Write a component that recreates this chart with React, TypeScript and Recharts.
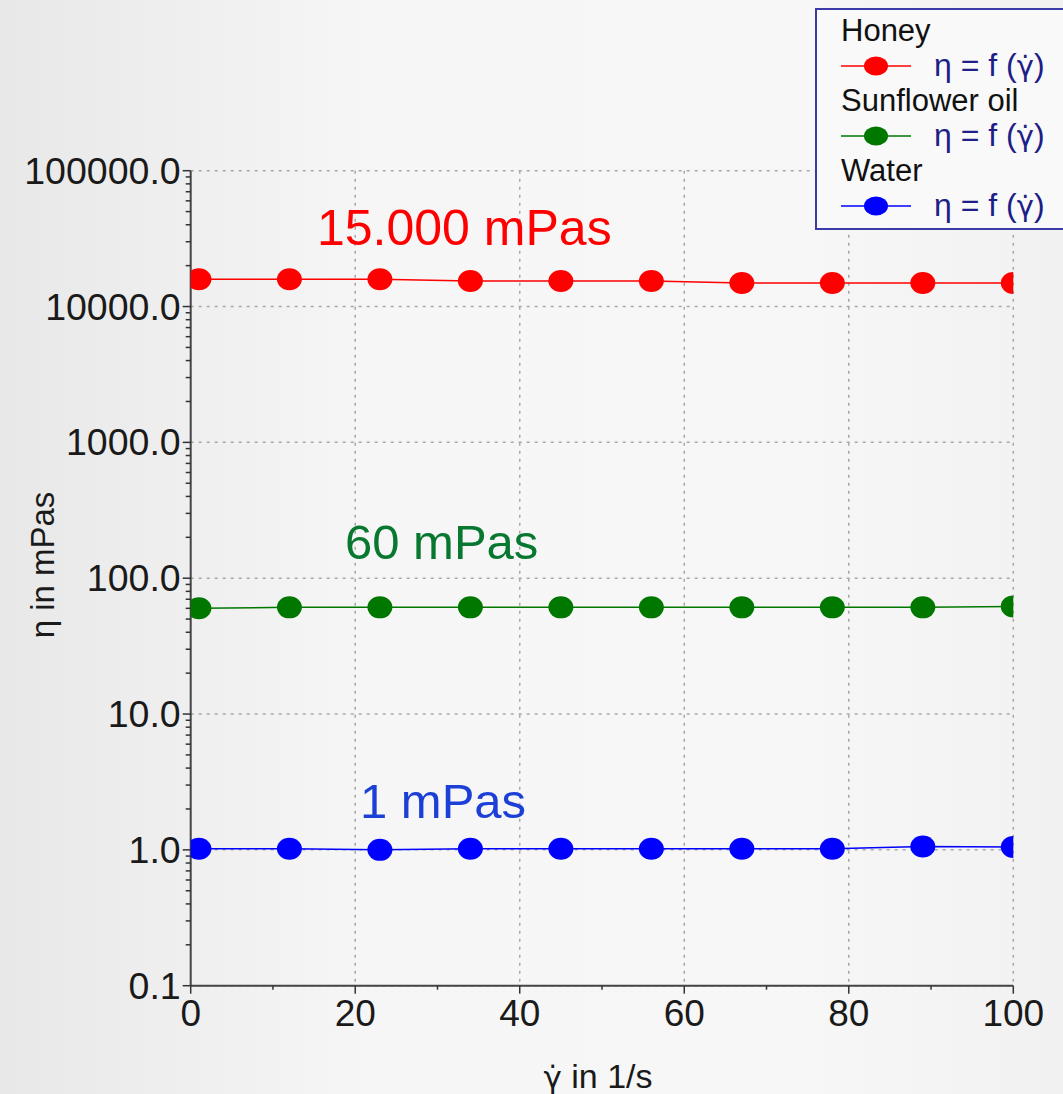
import React from 'react'
import { LineChart, Line, XAxis, YAxis, CartesianGrid, Legend } from 'recharts'

const shearRate = [1, 12, 23, 34, 45, 56, 67, 78, 89, 100]
const honey = [15900, 15900, 15900, 15400, 15400, 15400, 14900, 14900, 14900, 14900]
const sunflowerOil = [60, 61, 61, 61, 61, 61, 61, 61, 61, 62]
const water = [1.02, 1.02, 1.0, 1.02, 1.02, 1.02, 1.02, 1.02, 1.06, 1.05]

const decades = [0.1, 1, 10, 100, 1000, 10000, 100000]
const minorY = decades.slice(0, -1).flatMap((d) => [2, 3, 4, 5, 6, 7, 8, 9].map((m) => m * d))
const xMajor = [0, 20, 40, 60, 80, 100]
const xMinor = [10, 30, 50, 70, 90]

const series = [
  { key: 'honey', name: 'Honey', color: '#ff0000' },
  { key: 'sunflower', name: 'Sunflower oil', color: '#007800' },
  { key: 'water', name: 'Water', color: '#0000ff' },
]

const data = shearRate.map((x, i) => ({
  x,
  honey: honey[i],
  sunflower: sunflowerOil[i],
  water: water[i],
}))

const FONT = '"Liberation Sans", Arial, sans-serif'
const GAMMA_DOT = 'γ\u0307'

const YTick = ({ x, y, payload }: any) => {
  const v = payload.value
  const major = decades.includes(v)
  return (
    <g>
      <line x1={x - (major ? 8 : 5)} x2={x} y1={y} y2={y} stroke="#333" strokeWidth={1.5} />
      {major && (
        <text x={x - 10} y={y} dy={13} textAnchor="end" fontSize={37.5} fill="#1a1a1a" fontFamily={FONT}>
          {v.toFixed(1)}
        </text>
      )}
    </g>
  )
}

const XTick = ({ x, y, payload }: any) => {
  const v = payload.value
  const major = xMajor.includes(v)
  return (
    <g>
      <line x1={x} x2={x} y1={y} y2={y + (major ? 8 : 4)} stroke="#333" strokeWidth={1.5} />
      {major && (
        <text x={x} y={y + 40} textAnchor="middle" fontSize={37} fill="#1a1a1a" fontFamily={FONT}>
          {v}
        </text>
      )}
    </g>
  )
}

const makeDot = (color: string) => (p: any) => (
  <ellipse key={`d-${p.index}`} cx={p.cx} cy={p.cy} rx={12.5} ry={11} fill={color} />
)

const renderLegend = (props: any) => (
  <div
    style={{
      width: 260,
      height: 222,
      boxSizing: 'border-box',
      border: '2px solid #3a3aa8',
      background: '#f9f9f9',
      fontFamily: FONT,
      padding: '4px 0 0 24px',
    }}
  >
    {props.payload.map((item: any) => (
      <div key={item.value}>
        <div style={{ fontSize: 31, lineHeight: '33px', color: '#111' }}>{item.value}</div>
        <div style={{ display: 'flex', alignItems: 'center', height: 37 }}>
          <svg width={70} height={24}>
            <line x1={0} x2={70} y1={12} y2={12} stroke={item.color} strokeWidth={1.5} />
            <ellipse cx={35} cy={12} rx={12} ry={9.5} fill={item.color} />
          </svg>
          <span style={{ fontSize: 32, color: '#1e1e88', marginLeft: 23 }}>
            η = f (<span style={{ fontFamily: '"DejaVu Sans", sans-serif', fontSize: 29 }}>{GAMMA_DOT}</span>)
          </span>
        </div>
      </div>
    ))}
  </div>
)

export default function App() {
  return (
    <div
      style={{
        position: 'absolute',
        left: 0,
        top: 0,
        width: 1063,
        height: 1094,
        background: 'linear-gradient(to right, #e8e8e8 0%, #f6f6f6 35%, #f7f7f7 75%, #f1f1f1 100%)',
        fontFamily: FONT,
        overflow: 'hidden',
      }}
    >
      <LineChart
        width={1063}
        height={1094}
        data={data}
        margin={{ top: 170.7, right: 49.7, left: 10, bottom: 8 }}
      >
        <CartesianGrid
          stroke="#a8a8a8"
          strokeDasharray="3 5"
          strokeWidth={1.5}
          horizontalValues={decades}
          verticalValues={[20, 40, 60, 80, 100]}
        />
        <XAxis
          dataKey="x"
          type="number"
          domain={[0, 100]}
          ticks={[...xMajor, ...xMinor].sort((a, b) => a - b)}
          allowDataOverflow
          height={100.3}
          tickSize={0}
          tickMargin={0}
          tickLine={false}
          tick={<XTick />}
          axisLine={{ stroke: '#444', strokeWidth: 2 }}
          interval={0}
        />
        <YAxis
          scale="log"
          domain={[0.1, 100000]}
          ticks={[...decades, ...minorY].sort((a, b) => a - b)}
          allowDataOverflow
          width={180.7}
          tickSize={0}
          tickMargin={0}
          tickLine={false}
          tick={<YTick />}
          axisLine={{ stroke: '#444', strokeWidth: 2 }}
          interval={0}
        />
        <Legend
          layout="vertical"
          align="center"
          verticalAlign="middle"
          content={renderLegend}
          wrapperStyle={{ position: 'absolute', left: 815, top: 8, width: 260, height: 222 }}
        />
        {series.map((s) => (
          <Line
            key={s.key}
            dataKey={s.key}
            name={s.name}
            stroke={s.color}
            strokeWidth={1.5}
            type="linear"
            dot={makeDot(s.color)}
            activeDot={false}
            isAnimationActive={false}
          />
        ))}
      </LineChart>
      <svg
        width={1063}
        height={1094}
        style={{ position: 'absolute', left: 0, top: 0, pointerEvents: 'none' }}
        fontFamily={FONT}
      >
        <text x={317} y={245} fontSize={50} fill="#ff0000">15.000 mPas</text>
        <text x={345} y={559} fontSize={49} fill="#087830">60 mPas</text>
        <text x={360} y={818} fontSize={49} fill="#1c3fd6">1 mPas</text>
        <text
          x={54}
          y={565}
          fontSize={33}
          fill="#1a1a1a"
          textAnchor="middle"
          transform="rotate(-90 54 565)"
        >
          η in mPas
        </text>
        <text x={598} y={1088} fontSize={34} fill="#1a1a1a" textAnchor="middle">
          <tspan fontFamily='"DejaVu Sans", sans-serif' fontSize={31}>{GAMMA_DOT}</tspan> in 1/s
        </text>
      </svg>
    </div>
  )
}
